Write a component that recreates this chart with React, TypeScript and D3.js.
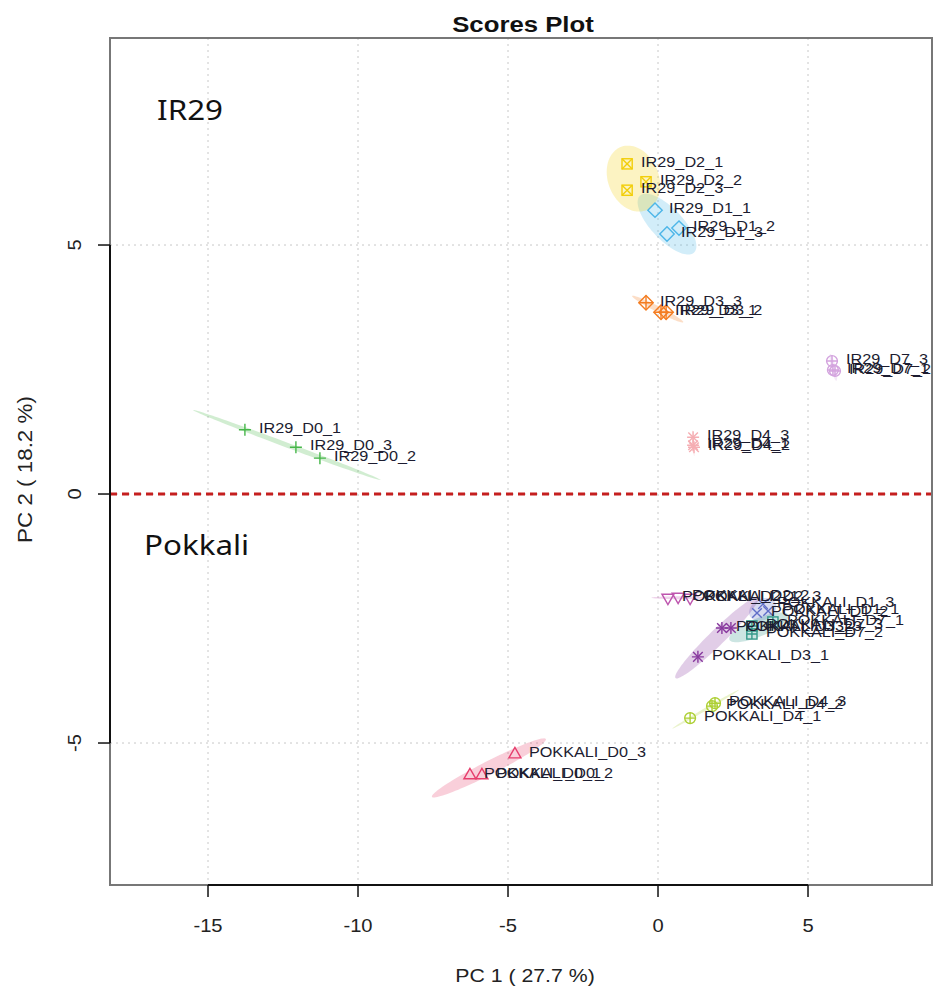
import React from "react";
import * as d3 from "d3";

// sample scores
const sampleNames = [
  "IR29_D0_1", "IR29_D0_2", "IR29_D0_3",
  "IR29_D1_1", "IR29_D1_2", "IR29_D1_3",
  "IR29_D2_1", "IR29_D2_2", "IR29_D2_3",
  "IR29_D3_1", "IR29_D3_2", "IR29_D3_3",
  "IR29_D4_1", "IR29_D4_2", "IR29_D4_3",
  "IR29_D7_1", "IR29_D7_2", "IR29_D7_3",
  "POKKALI_D0_1", "POKKALI_D0_2", "POKKALI_D0_3",
  "POKKALI_D1_1", "POKKALI_D1_2", "POKKALI_D1_3",
  "POKKALI_D2_1", "POKKALI_D2_2", "POKKALI_D2_3",
  "POKKALI_D3_1", "POKKALI_D3_2", "POKKALI_D3_3",
  "POKKALI_D4_1", "POKKALI_D4_2", "POKKALI_D4_3",
  "POKKALI_D7_1", "POKKALI_D7_2", "POKKALI_D7_3",
];
const pc1 = [
  -13.77, -11.27, -12.07,
  -0.1, 0.7, 0.3,
  -1.03, -0.4, -1.03,
  0.1, 0.27, -0.4,
  1.17, 1.2, 1.17,
  5.83, 5.9, 5.8,
  -6.27, -5.87, -4.77,
  3.67, 3.3, 3.5,
  0.33, 0.67, 1.07,
  1.33, 2.13, 2.43,
  1.07, 1.8, 1.9,
  3.83, 3.13, 3.13,
];
const pc2 = [
  1.29, 0.72, 0.94,
  5.7, 5.34, 5.22,
  6.63, 6.27, 6.1,
  3.65, 3.65, 3.84,
  0.98, 0.94, 1.14,
  2.49, 2.47, 2.67,
  -5.64, -5.64, -5.22,
  -2.35, -2.39, -2.21,
  -2.09, -2.07, -2.09,
  -3.27, -2.69, -2.69,
  -4.5, -4.26, -4.2,
  -2.57, -2.81, -2.65,
];

const groupNames = [
  "IR29_D0", "IR29_D1", "IR29_D2", "IR29_D3", "IR29_D4", "IR29_D7",
  "POKKALI_D0", "POKKALI_D1", "POKKALI_D2", "POKKALI_D3", "POKKALI_D4", "POKKALI_D7",
];
const groupColors = [
  "#46B649", "#4DB6E8", "#F2CE0A", "#F47C20", "#F5AEB3", "#D3A3DE",
  "#E63E6D", "#5F6DC8", "#BE55AE", "#88399E", "#ADCF34", "#34998A",
];
// R pch codes
const groupShapes = [3, 5, 7, 9, 8, 10, 2, 4, 6, 8, 10, 12];

const xTicks = [-15, -10, -5, 0, 5];
const yTicks = [-5, 0, 5];

const W = 936;
const H = 992;
const BOX = { left: 110, right: 932, top: 38, bottom: 885 };
const SX = 1.12; // the reference text is a bit wide

const x = d3.scaleLinear().domain([-18.267, 9.133]).range([BOX.left, BOX.right]);
const y = d3.scaleLinear().domain([-7.851, 9.157]).range([BOX.bottom, BOX.top]);

const FONT = "'Liberation Sans', Arial, sans-serif";
const T95 = Math.sqrt(-2 * Math.log(0.05)); // sqrt(qchisq(.95, 2))

const groupOf = (name: string) => groupNames.indexOf(name.slice(0, name.lastIndexOf("_")));

// 95% ellipse from the group covariance
const ellipsePath = (gi: number) => {
  const idx = sampleNames.map((n, i) => i).filter((i) => groupOf(sampleNames[i]) === gi);
  const xs = idx.map((i) => pc1[i]);
  const ys = idx.map((i) => pc2[i]);
  const mx = d3.mean(xs)!;
  const my = d3.mean(ys)!;
  const n = xs.length;
  let sxx = 0, syy = 0, sxy = 0;
  for (let k = 0; k < n; k++) {
    sxx += (xs[k] - mx) ** 2;
    syy += (ys[k] - my) ** 2;
    sxy += (xs[k] - mx) * (ys[k] - my);
  }
  sxx /= n - 1; syy /= n - 1; sxy /= n - 1;
  // cholesky
  const a = Math.sqrt(sxx);
  const b = sxy / a;
  const c = Math.sqrt(Math.max(syy - b * b, 0));
  const pts: [number, number][] = d3.range(100).map((k) => {
    const t = (k / 100) * 2 * Math.PI;
    const u = T95 * Math.cos(t);
    const v = T95 * Math.sin(t);
    return [x(mx + a * u), y(my + b * u + c * v)];
  });
  return d3.line().curve(d3.curveLinearClosed)(pts);
};

const Txt = ({ x0, y0, rot = 0, children, ...rest }: any) => (
  <text transform={`translate(${x0},${y0}) rotate(${rot}) scale(${SX},1)`} fontFamily={FONT} fill="#222" {...rest}>
    {children}
  </text>
);

const Marker = ({ pch, cx, cy, color }: { pch: number; cx: number; cy: number; color: string }) => {
  const s = 6;
  const sw = 1.4;
  const common = { stroke: color, strokeWidth: sw, fill: "none" };
  const plus = <path d={`M${cx - s},${cy}H${cx + s}M${cx},${cy - s}V${cy + s}`} {...common} />;
  const cross = <path d={`M${cx - s * 0.8},${cy - s * 0.8}L${cx + s * 0.8},${cy + s * 0.8}M${cx - s * 0.8},${cy + s * 0.8}L${cx + s * 0.8},${cy - s * 0.8}`} {...common} />;
  const diamond = <path d={`M${cx},${cy - s * 1.2}L${cx + s * 1.2},${cy}L${cx},${cy + s * 1.2}L${cx - s * 1.2},${cy}Z`} {...common} />;
  const square = <rect x={cx - s * 0.85} y={cy - s * 0.85} width={s * 1.7} height={s * 1.7} {...common} />;
  const circle = <circle cx={cx} cy={cy} r={s * 0.9} {...common} />;
  switch (pch) {
    case 2:
      return <path d={`M${cx},${cy - s * 1.1}L${cx + s},${cy + s * 0.65}L${cx - s},${cy + s * 0.65}Z`} {...common} />;
    case 6:
      return <path d={`M${cx},${cy + s * 1.1}L${cx + s},${cy - s * 0.65}L${cx - s},${cy - s * 0.65}Z`} {...common} />;
    case 3:
      return plus;
    case 4:
      return cross;
    case 5:
      return diamond;
    case 7:
      return <g>{square}<path d={`M${cx - s * 0.85},${cy - s * 0.85}L${cx + s * 0.85},${cy + s * 0.85}M${cx - s * 0.85},${cy + s * 0.85}L${cx + s * 0.85},${cy - s * 0.85}`} {...common} /></g>;
    case 8:
      return <g>{plus}{cross}</g>;
    case 9:
      return <g>{diamond}<path d={`M${cx - s * 1.2},${cy}H${cx + s * 1.2}M${cx},${cy - s * 1.2}V${cy + s * 1.2}`} {...common} /></g>;
    case 10:
      return <g>{circle}<path d={`M${cx - s * 0.9},${cy}H${cx + s * 0.9}M${cx},${cy - s * 0.9}V${cy + s * 0.9}`} {...common} /></g>;
    case 12:
      return <g>{square}<path d={`M${cx - s * 0.85},${cy}H${cx + s * 0.85}M${cx},${cy - s * 0.85}V${cy + s * 0.85}`} {...common} /></g>;
    default:
      return circle;
  }
};

export default function App() {
  return (
    <div style={{ position: "absolute", left: 0, top: 0 }}>
      <svg width={W} height={H} style={{ display: "block", background: "#fff" }}>
        <Txt x0={(BOX.left + BOX.right) / 2 + 2} y0={32} textAnchor="middle" fontWeight="bold" fontSize={23} fill="#111">
          Scores Plot
        </Txt>

        {/* grid */}
        {xTicks.map((t) => (
          <line key={"gx" + t} x1={x(t)} x2={x(t)} y1={BOX.top} y2={BOX.bottom} stroke="#c8c8c8" strokeDasharray="2,4" />
        ))}
        {yTicks.map((t) => (
          <line key={"gy" + t} x1={BOX.left} x2={BOX.right} y1={y(t)} y2={y(t)} stroke="#c8c8c8" strokeDasharray="2,4" />
        ))}

        {/* ellipses */}
        {groupNames.map((g, gi) => (
          <path key={"e" + g} d={ellipsePath(gi) || ""} fill={groupColors[gi]} fillOpacity={0.25} stroke="none" />
        ))}

        {/* red zero line */}
        <line x1={BOX.left} x2={BOX.right} y1={y(0)} y2={y(0)} stroke="#C51F1F" strokeWidth={3} strokeDasharray="7,5" />

        {/* points */}
        {sampleNames.map((n, i) => {
          const gi = groupOf(n);
          return <Marker key={"p" + n} pch={groupShapes[gi]} cx={x(pc1[i])} cy={y(pc2[i])} color={groupColors[gi]} />;
        })}

        {/* labels */}
        {sampleNames.map((n, i) => (
          <Txt key={"l" + n} x0={x(pc1[i]) + 14} y0={y(pc2[i]) - 2} dominantBaseline="central" fontSize={14.5} fill="#1c1c30">
            {n}
          </Txt>
        ))}

        {/* box + axes */}
        <rect x={BOX.left} y={BOX.top} width={BOX.right - BOX.left} height={BOX.bottom - BOX.top} fill="none" stroke="#777" strokeWidth={2} />
        <line x1={x(-15)} x2={x(5)} y1={BOX.bottom} y2={BOX.bottom} stroke="#111" strokeWidth={2} />
        {xTicks.map((t) => (
          <g key={"xt" + t}>
            <line x1={x(t)} x2={x(t)} y1={BOX.bottom} y2={BOX.bottom + 12} stroke="#111" strokeWidth={1.5} />
            <Txt x0={x(t)} y0={BOX.bottom + 47} textAnchor="middle" fontSize={18}>
              {t}
            </Txt>
          </g>
        ))}
        <line x1={BOX.left} x2={BOX.left} y1={y(-5)} y2={y(5)} stroke="#111" strokeWidth={2} />
        {yTicks.map((t) => (
          <g key={"yt" + t}>
            <line x1={BOX.left - 12} x2={BOX.left} y1={y(t)} y2={y(t)} stroke="#111" strokeWidth={1.5} />
            <Txt x0={BOX.left - 29} y0={y(t)} rot={-90} textAnchor="middle" fontSize={18}>
              {t}
            </Txt>
          </g>
        ))}

        <Txt x0={(BOX.left + BOX.right) / 2 + 4} y0={982} textAnchor="middle" fontSize={19}>
          PC 1 ( 27.7 %)
        </Txt>
        <Txt x0={32} y0={(BOX.top + BOX.bottom) / 2 + 8} rot={-90} textAnchor="middle" fontSize={20}>
          PC 2 ( 18.2 %)
        </Txt>

        <Txt x0={157} y0={120} fontFamily="'Noto Sans', sans-serif" fontSize={28} fill="#111">IR29</Txt>
        <Txt x0={144} y0={555} fontFamily="'Noto Sans', sans-serif" fontSize={28} fill="#111">Pokkali</Txt>
      </svg>
    </div>
  );
}
